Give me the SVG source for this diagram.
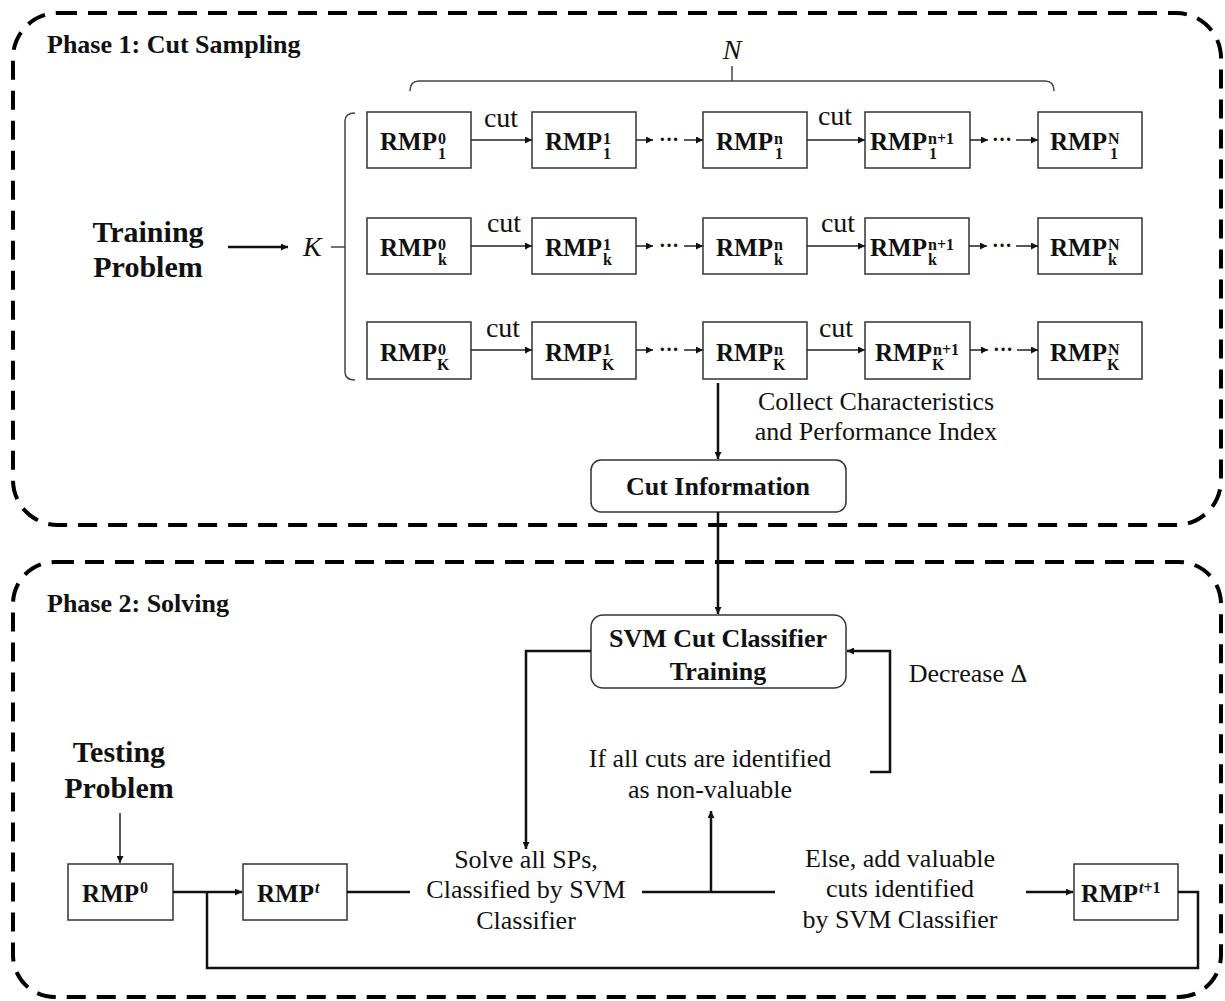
<svg xmlns="http://www.w3.org/2000/svg" width="1225" height="1001" viewBox="0 0 1225 1001" font-family="'Liberation Serif', serif">
<style>
.phase{fill:none;stroke:#000;stroke-width:4;stroke-dasharray:19 11}
.box{fill:#fff;stroke:#333;stroke-width:1.5}
.rbox{fill:#fff;stroke:#333;stroke-width:1.5}
.ln{fill:none;stroke:#222;stroke-width:1.5}
.lnb{fill:none;stroke:#111;stroke-width:2.5}
.br{fill:none;stroke:#444;stroke-width:1.5}
.rmp,.sc,.reg,.bold,.big,.it,.cut,.dots{font-family:'Liberation Serif',serif;fill:#111}
.rmp{font-size:25px;font-weight:bold}
.sc{font-size:16px;font-weight:bold}
.reg{font-size:26px}
.bold{font-size:26px;font-weight:bold}
.big{font-size:30px;font-weight:bold}
.it{font-size:28px;font-style:italic}
.cut{font-size:28px}
.dots{font-size:20px;font-weight:bold}
.mid{text-anchor:middle}
</style>
<defs>
<marker id="ah" viewBox="0 0 10 10" refX="10" refY="5" markerWidth="8" markerHeight="7" markerUnits="userSpaceOnUse" orient="auto"><path d="M0,0 L10,5 L0,10 z" fill="#111"/></marker>
</defs>

<g id="phase1">
<rect class="phase" x="13" y="13" width="1208" height="512" rx="45"/>
<text class="bold" x="47" y="53">Phase 1: Cut Sampling</text>
</g>
<g id="phase2">
<rect class="phase" x="13" y="562" width="1208" height="435" rx="42"/>
<text class="bold" x="47" y="612">Phase 2: Solving</text>
</g>

<g id="training-problem">
<text class="big mid" x="148" y="242">Training</text>
<text class="big mid" x="148" y="277">Problem</text>
</g>
<g id="K-label"><text class="it" x="303" y="256">K</text></g>
<g id="N-label"><text class="it mid" x="732" y="59">N</text></g>

<g id="braces">
<path class="br" d="M355 113 Q345 113 345 121 V372 Q345 380 355 380"/>
<path class="br" d="M345 247 H331"/>
<path class="br" d="M410 91 Q410 81 419 81 H1045 Q1054 81 1054 91"/>
<path class="br" d="M732 81 V66"/>
</g>

<!-- Row 1 -->
<g id="rmp-1-0"><rect class="box" x="367" y="112" width="104" height="56"/><text class="rmp" x="380" y="150">RMP</text><text class="sc" x="438" y="144">0</text><text class="sc" x="438" y="159">1</text></g>
<g id="rmp-1-1"><rect class="box" x="532" y="112" width="104" height="56"/><text class="rmp" x="545" y="150">RMP</text><text class="sc" x="603" y="144">1</text><text class="sc" x="603" y="159">1</text></g>
<g id="rmp-1-n"><rect class="box" x="703" y="112" width="104" height="56"/><text class="rmp" x="716" y="150">RMP</text><text class="sc" x="774" y="144">n</text><text class="sc" x="775" y="159">1</text></g>
<g id="rmp-1-n1"><rect class="box" x="865" y="112" width="105" height="56"/><text class="rmp" x="870" y="150">RMP</text><text class="sc" x="928" y="144">n+1</text><text class="sc" x="929" y="159">1</text></g>
<g id="rmp-1-N"><rect class="box" x="1038" y="112" width="104" height="56"/><text class="rmp" x="1050" y="150">RMP</text><text class="sc" x="1108" y="144">N</text><text class="sc" x="1110" y="159">1</text></g>

<!-- Row 2 -->
<g id="rmp-k-0"><rect class="box" x="367" y="218" width="104" height="56"/><text class="rmp" x="380" y="256">RMP</text><text class="sc" x="438" y="250">0</text><text class="sc" x="438" y="265">k</text></g>
<g id="rmp-k-1"><rect class="box" x="532" y="218" width="104" height="56"/><text class="rmp" x="545" y="256">RMP</text><text class="sc" x="603" y="250">1</text><text class="sc" x="603" y="265">k</text></g>
<g id="rmp-k-n"><rect class="box" x="703" y="218" width="104" height="56"/><text class="rmp" x="716" y="256">RMP</text><text class="sc" x="774" y="250">n</text><text class="sc" x="774" y="265">k</text></g>
<g id="rmp-k-n1"><rect class="box" x="865" y="218" width="104" height="56"/><text class="rmp" x="870" y="256">RMP</text><text class="sc" x="928" y="250">n+1</text><text class="sc" x="928" y="265">k</text></g>
<g id="rmp-k-N"><rect class="box" x="1038" y="218" width="104" height="56"/><text class="rmp" x="1050" y="256">RMP</text><text class="sc" x="1108" y="250">N</text><text class="sc" x="1108" y="265">k</text></g>

<!-- Row 3 -->
<g id="rmp-K-0"><rect class="box" x="367" y="322" width="104" height="57"/><text class="rmp" x="380" y="361">RMP</text><text class="sc" x="438" y="355">0</text><text class="sc" x="437" y="370">K</text></g>
<g id="rmp-K-1"><rect class="box" x="532" y="322" width="104" height="57"/><text class="rmp" x="545" y="361">RMP</text><text class="sc" x="603" y="355">1</text><text class="sc" x="602" y="370">K</text></g>
<g id="rmp-K-n"><rect class="box" x="703" y="322" width="104" height="57"/><text class="rmp" x="716" y="361">RMP</text><text class="sc" x="774" y="355">n</text><text class="sc" x="773" y="370">K</text></g>
<g id="rmp-K-n1"><rect class="box" x="865" y="322" width="105" height="57"/><text class="rmp" x="875" y="361">RMP</text><text class="sc" x="933" y="355">n+1</text><text class="sc" x="932" y="370">K</text></g>
<g id="rmp-K-N"><rect class="box" x="1038" y="322" width="104" height="57"/><text class="rmp" x="1050" y="361">RMP</text><text class="sc" x="1108" y="355">N</text><text class="sc" x="1107" y="370">K</text></g>

<g id="cut-information"><rect class="rbox" x="591" y="460" width="255" height="52" rx="10"/><text class="bold mid" x="718" y="495">Cut Information</text></g>
<g id="collect-label"><text class="reg mid" x="876" y="410">Collect Characteristics</text><text class="reg mid" x="876" y="440">and Performance Index</text></g>

<g id="svm-classifier"><rect class="rbox" x="591" y="615" width="255" height="73" rx="12"/><text class="bold mid" x="718" y="647">SVM Cut Classifier</text><text class="bold mid" x="718" y="680">Training</text></g>
<g id="decrease-label"><text class="reg mid" x="968" y="682">Decrease Δ</text></g>

<g id="testing-problem"><text class="big mid" x="119" y="762">Testing</text><text class="big mid" x="119" y="798">Problem</text></g>
<g id="rmp-0"><rect class="box" x="68" y="864" width="105" height="56"/><text class="rmp" x="82" y="902">RMP</text><text class="sc" x="140" y="893" font-size="18">0</text></g>
<g id="rmp-t"><rect class="box" x="243" y="864" width="104" height="56"/><text class="rmp" x="257" y="902">RMP</text><text class="sc" x="315" y="893" font-size="18" font-style="italic">t</text></g>
<g id="rmp-t1"><rect class="box" x="1074" y="864" width="104" height="56"/><text class="rmp" x="1081" y="902">RMP</text><text class="sc" x="1139" y="893" font-size="18"><tspan font-style="italic">t</tspan>+1</text></g>

<g id="solve-label"><text class="reg mid" x="526" y="868">Solve all SPs,</text><text class="reg mid" x="526" y="898">Classified by SVM</text><text class="reg mid" x="526" y="929">Classifier</text></g>
<g id="if-label"><text class="reg mid" x="710" y="767">If all cuts are identified</text><text class="reg mid" x="710" y="798">as non-valuable</text></g>
<g id="else-label"><text class="reg mid" x="900" y="867">Else, add valuable</text><text class="reg mid" x="900" y="897">cuts identified</text><text class="reg mid" x="900" y="928">by SVM Classifier</text></g>

<g id="connectors">
<path class="lnb" d="M228 247 H288" marker-end="url(#ah)"/>
<path class="ln" d="M471 140 H532" marker-end="url(#ah)"/>
<text class="cut mid" x="501" y="127">cut</text>
<path class="ln" d="M636 140 H653" marker-end="url(#ah)"/>
<text class="dots mid" x="669" y="146">···</text>
<path class="ln" d="M684 140 H703" marker-end="url(#ah)"/>
<path class="ln" d="M807 140 H865" marker-end="url(#ah)"/>
<text class="cut mid" x="835" y="125">cut</text>
<path class="ln" d="M970 140 H988" marker-end="url(#ah)"/>
<text class="dots mid" x="1002" y="146">···</text>
<path class="ln" d="M1016 140 H1038" marker-end="url(#ah)"/>
<path class="ln" d="M471 246 H532" marker-end="url(#ah)"/>
<text class="cut mid" x="504" y="232">cut</text>
<path class="ln" d="M636 246 H653" marker-end="url(#ah)"/>
<text class="dots mid" x="669" y="252">···</text>
<path class="ln" d="M684 246 H703" marker-end="url(#ah)"/>
<path class="ln" d="M807 246 H865" marker-end="url(#ah)"/>
<text class="cut mid" x="838" y="232">cut</text>
<path class="ln" d="M969 246 H987" marker-end="url(#ah)"/>
<text class="dots mid" x="1002" y="252">···</text>
<path class="ln" d="M1016 246 H1038" marker-end="url(#ah)"/>
<path class="ln" d="M471 350 H532" marker-end="url(#ah)"/>
<text class="cut mid" x="503" y="337">cut</text>
<path class="ln" d="M636 350 H653" marker-end="url(#ah)"/>
<text class="dots mid" x="669" y="356">···</text>
<path class="ln" d="M684 350 H703" marker-end="url(#ah)"/>
<path class="ln" d="M807 350 H865" marker-end="url(#ah)"/>
<text class="cut mid" x="836" y="337">cut</text>
<path class="ln" d="M970 350 H988" marker-end="url(#ah)"/>
<text class="dots mid" x="1003" y="356">···</text>
<path class="ln" d="M1017 350 H1038" marker-end="url(#ah)"/>
<path class="lnb" d="M718 383 V459" marker-end="url(#ah)"/>
<path class="lnb" d="M718 512 V614" marker-end="url(#ah)"/>
<path class="lnb" d="M591 651 H526 V849" marker-end="url(#ah)"/>
<path class="lnb" d="M870 772 H890 V651 H847" marker-end="url(#ah)"/>
<path class="ln" d="M120 813 V863" marker-end="url(#ah)"/>
<path class="lnb" d="M173 892 H242" marker-end="url(#ah)"/>
<path class="lnb" d="M1178 892 H1198 V968 H207 V892"/>
<path class="lnb" d="M347 892 H410"/>
<path class="lnb" d="M642 892 H775"/>
<path class="lnb" d="M711 892 V811" marker-end="url(#ah)"/>
<path class="lnb" d="M1026 892 H1073" marker-end="url(#ah)"/>
</g>
</svg>
